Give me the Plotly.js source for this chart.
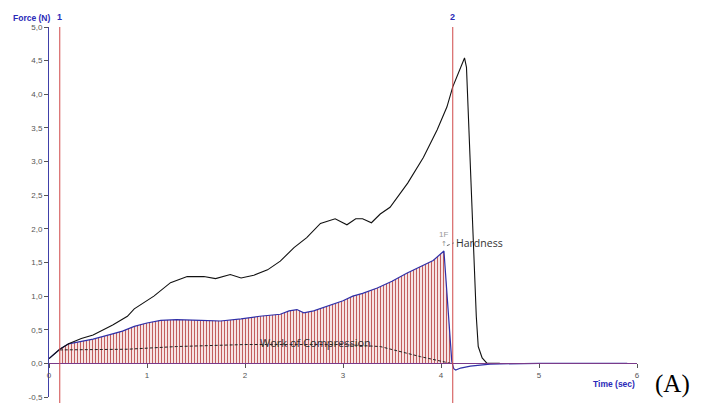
<!DOCTYPE html>
<html>
<head>
<meta charset="utf-8">
<script src="https://cdn.plot.ly/plotly-3.0.1.min.js"></script>
<style>html,body{margin:0;padding:0;background:#fff;}#chart{width:702px;height:403px;}</style>
</head>
<body>
<div id="chart"></div>
<script>
// Force (black) curve: time (s), force (N)
const blackTime = [0, 0.05, 0.11, 0.2, 0.33, 0.45, 0.53, 0.65, 0.8, 0.87, 1.07, 1.24, 1.41, 1.58, 1.7, 1.85, 1.96, 2.09, 2.23, 2.36, 2.5, 2.63, 2.77, 2.92, 3.04, 3.13, 3.2, 3.29, 3.38, 3.48, 3.66, 3.82, 3.96, 4.06, 4.12, 4.18, 4.24, 4.26, 4.29, 4.31, 4.34, 4.36, 4.38, 4.42, 4.47, 4.6];
const blackForce = [0.07, 0.14, 0.21, 0.29, 0.37, 0.42, 0.48, 0.57, 0.70, 0.81, 1.0, 1.2, 1.29, 1.29, 1.26, 1.32, 1.27, 1.31, 1.39, 1.52, 1.72, 1.87, 2.08, 2.15, 2.06, 2.15, 2.15, 2.09, 2.22, 2.32, 2.68, 3.06, 3.47, 3.81, 4.11, 4.32, 4.54, 4.4, 3.2, 2.4, 1.4, 0.7, 0.25, 0.08, 0.0, 0.0];
// Blue curve
const blueTime = [0, 0.05, 0.11, 0.2, 0.33, 0.45, 0.63, 0.75, 0.87, 1.0, 1.14, 1.3, 1.55, 1.75, 1.96, 2.15, 2.36, 2.45, 2.53, 2.6, 2.7, 2.85, 3.0, 3.1, 3.2, 3.35, 3.5, 3.65, 3.8, 3.92, 4.03, 4.06, 4.09, 4.11, 4.13, 4.15, 4.2, 4.3, 4.5, 5.0, 5.9];
const blueForce = [0.07, 0.14, 0.21, 0.29, 0.33, 0.36, 0.43, 0.48, 0.55, 0.6, 0.64, 0.65, 0.64, 0.63, 0.66, 0.7, 0.73, 0.78, 0.80, 0.75, 0.78, 0.86, 0.93, 1.0, 1.04, 1.12, 1.22, 1.34, 1.44, 1.53, 1.67, 1.1, 0.43, 0.03, -0.08, -0.1, -0.07, -0.04, -0.01, 0.0, 0.0];
// Work of compression dashed line
const workTime = [0.11, 0.8, 1.3, 2.0, 3.0, 3.38, 3.79, 4.1];
const workForce = [0.2, 0.21, 0.25, 0.28, 0.28, 0.25, 0.1, 0.0];
// Markers
const markerTimes = [0.11, 4.12];
const markerLabels = ['1', '2'];
const hardnessTime = 4.03, hardnessForce = 1.67;
const fillEnd = 4.11;
const xTicks = [0, 1, 2, 3, 4, 5, 6];
const yTicks = [-0.5, 0, 0.5, 1, 1.5, 2, 2.5, 3, 3.5, 4, 4.5, 5];

const fillT = [], fillF = [];
blueTime.forEach((t, i) => { if (t >= markerTimes[0] && t <= fillEnd) { fillT.push(t); fillF.push(blueForce[i]); } });

const traces = [
  {x: fillT, y: fillF, type: 'scatter', mode: 'lines', fill: 'tozeroy',
   line: {width: 0, color: 'rgba(0,0,0,0)'}, fillcolor: 'rgba(0,0,0,0)',
   fillpattern: {shape: '|', fgcolor: 'rgba(185,70,70,0.85)', bgcolor: 'rgba(235,195,195,0.45)', size: 3, solidity: 0.34},
   hoverinfo: 'skip'},
  {x: workTime, y: workForce, type: 'scatter', mode: 'lines', line: {color: '#222', width: 1, dash: '3px,2px'}},
  {x: blueTime, y: blueForce, type: 'scatter', mode: 'lines', line: {color: '#3030a8', width: 1.2}},
  {x: blackTime, y: blackForce, type: 'scatter', mode: 'lines', line: {color: '#111', width: 1.1}}
];

const shapes = markerTimes.map(t => ({type: 'line', xref: 'x', yref: 'paper', x0: t, x1: t, y0: -0.02, y1: 1.0, line: {color: '#d04848', width: 1}}));
shapes.push({type: 'line', xref: 'x', yref: 'y', x0: hardnessTime + 0.03, x1: hardnessTime + 0.1, y0: hardnessForce + 0.08, y1: hardnessForce + 0.12, line: {color: '#666', width: 1, dash: 'dot'}});

const annotations = markerTimes.map((t, i) => ({x: t, xref: 'x', y: 1, yref: 'paper', yanchor: 'bottom', yshift: 3, text: '<b>' + markerLabels[i] + '</b>', showarrow: false, font: {family: 'Arial, Liberation Sans', size: 9, color: '#2a2ab8'}}));
annotations.push(
  {xref: 'paper', x: -0.065, xanchor: 'left', yref: 'paper', y: 1.0, yanchor: 'bottom', yshift: 2, text: '<b>Force (N)</b>', showarrow: false, font: {family: 'Arial, Liberation Sans', size: 8.5, color: '#2a2ab8'}},
  {x: 6, xref: 'x', xanchor: 'right', y: -0.2, yref: 'y', yanchor: 'top', text: '<b>Time (sec)</b>', showarrow: false, font: {family: 'Arial, Liberation Sans', size: 8.5, color: '#2a2ab8'}},
  {x: 1.0, xref: 'paper', xanchor: 'left', xshift: 16, y: -0.3, yref: 'y', yanchor: 'middle', text: '(A)', showarrow: false, font: {family: 'Liberation Serif, Times New Roman', size: 25, color: '#000'}},
  {x: 2.72, xref: 'x', y: 0.31, yref: 'y', text: 'Work of Compression', showarrow: false, font: {family: 'Open Sans, Liberation Sans', size: 11, color: '#333'}},
  {x: hardnessTime + 0.1, xref: 'x', xanchor: 'left', y: hardnessForce + 0.12, yref: 'y', text: 'Hardness', showarrow: false, font: {family: 'Open Sans, Liberation Sans', size: 10.5, color: '#333'}},
  {x: hardnessTime, xref: 'x', y: hardnessForce + 0.25, yref: 'y', text: '1F', showarrow: false, font: {family: 'Arial, Liberation Sans', size: 8, color: '#999'}},
  {x: hardnessTime, xref: 'x', y: hardnessForce + 0.1, yref: 'y', text: '↑', showarrow: false, font: {family: 'DejaVu Sans', size: 7, color: '#888'}}
);

const layout = {
  width: 702, height: 403,
  margin: {l: 49, r: 65, t: 27, b: 6},
  paper_bgcolor: '#fff', plot_bgcolor: '#fff',
  showlegend: false,
  separators: ', ',
  xaxis: {range: [0, 6], tickvals: xTicks, ticktext: xTicks.map(String), showgrid: false, zeroline: false,
          showline: true, linecolor: '#7a3a8a', linewidth: 1, ticks: 'outside', ticklen: 4, tickcolor: '#555',
          anchor: 'free', position: 0.5 / 5.5, tickfont: {family: 'Arial, Liberation Sans', size: 8, color: '#555'}},
  yaxis: {range: [-0.5, 5.0], tickvals: yTicks, ticktext: yTicks.map(v => v.toFixed(1).replace('.', ',')), showgrid: false, zeroline: false,
          showline: true, linecolor: '#4040a8', linewidth: 1, ticks: 'outside', ticklen: 4, tickcolor: '#555',
          tickfont: {family: 'Arial, Liberation Sans', size: 8, color: '#555'}},
  shapes: shapes,
  annotations: annotations
};

Plotly.newPlot('chart', traces, layout, {displayModeBar: false, staticPlot: true});
</script>
</body>
</html>
